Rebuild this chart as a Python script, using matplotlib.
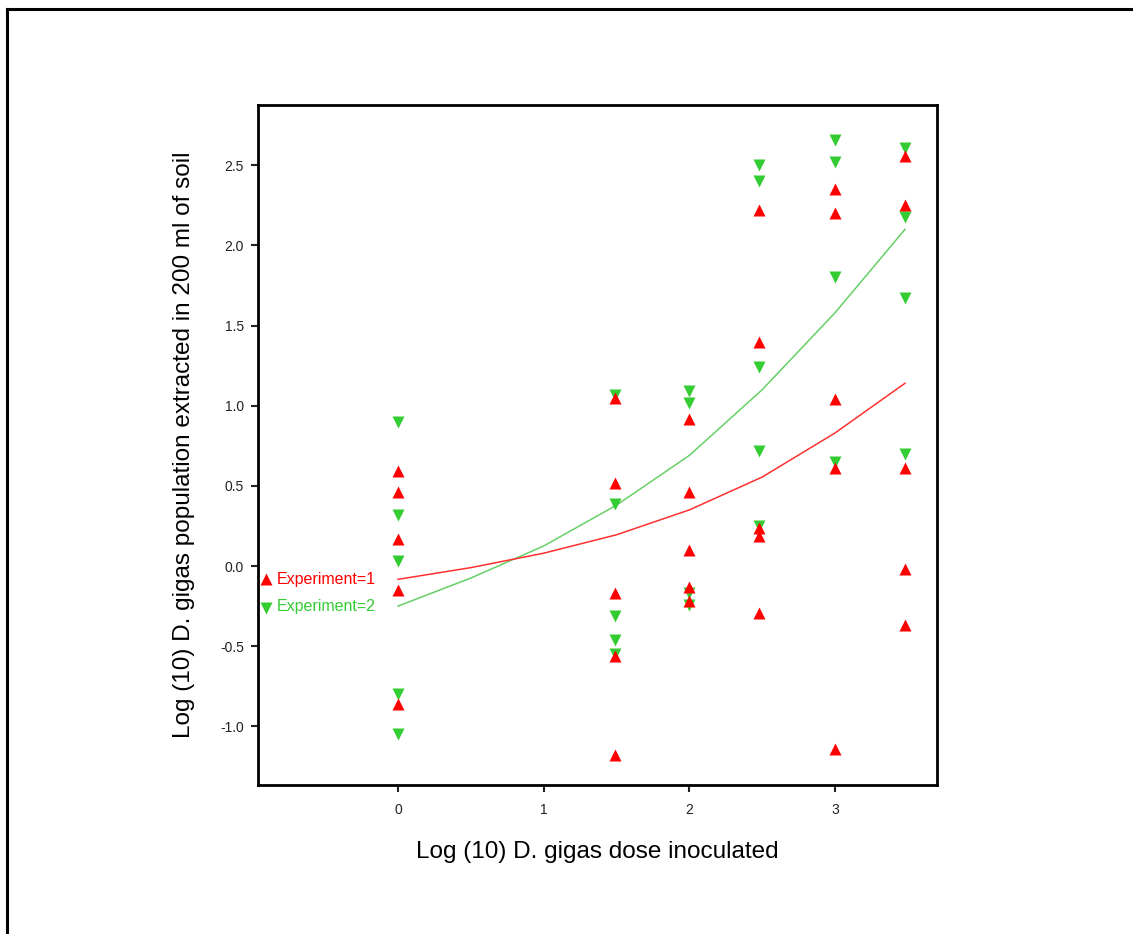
import numpy as np
import matplotlib
matplotlib.use("Agg")
from matplotlib import pyplot as plt
from matplotlib.lines import Line2D

plt.rcParams["font.family"] = ["Liberation Sans", "DejaVu Sans"]

# log10 dose positions on the x axis
doses = [0, 1.49, 2, 2.48, 3, 3.48]

# Experiment 1 (red, up triangles), values per dose
exp1 = [
    [0.59, 0.46, 0.17, -0.15, -0.86],
    [1.05, 0.52, -0.17, -0.56, -1.18],
    [0.92, 0.46, 0.10, -0.13, -0.22],
    [2.22, 1.40, 0.24, 0.19, -0.29],
    [2.35, 2.20, 1.04, 0.61, -1.14],
    [2.56, 2.25, 0.61, -0.02, -0.37],
]

# Experiment 2 (green, down triangles), values per dose
exp2 = [
    [0.90, 0.32, 0.03, -0.80, -1.05],
    [1.07, 0.39, -0.31, -0.46, -0.55],
    [1.09, 1.02, -0.17, -0.24],
    [2.50, 2.40, 1.24, 0.72, 0.25],
    [2.66, 2.52, 1.80, 0.65],
    [2.61, 2.18, 1.67, 0.70],
]

# fit lines
fit_x = [0, 0.5, 1, 1.5, 2, 2.5, 3, 3.48]
fit1 = [-0.083, -0.01, 0.08, 0.195, 0.35, 0.555, 0.83, 1.14]
fit2 = [-0.25, -0.075, 0.125, 0.38, 0.69, 1.10, 1.58, 2.10]

yticks = [-1.0, -0.5, 0.0, 0.5, 1.0, 1.5, 2.0, 2.5]
xticks = [0, 1, 2, 3]

red = "#ff0000"
green = "#33cc33"


def flatten(groups):
    xs, ys = [], []
    for d, vals in zip(doses, groups):
        for v in vals:
            xs.append(d)
            ys.append(v)
    return xs, ys


fig = plt.figure(figsize=(11.33, 9.34), dpi=100)
ax = fig.add_axes([258 / 1133, 1 - 785 / 934, 679 / 1133, 680 / 934])

x1, y1 = flatten(exp1)
x2, y2 = flatten(exp2)

ax.plot(fit_x, fit2, color="#66d066", lw=1.1, zorder=2)
ax.plot(fit_x, fit1, color="#ff3030", lw=1.1, zorder=2)
ax.plot(x2, y2, "v", color=green, ms=8, mec="none", zorder=3)
ax.plot(x1, y1, "^", color=red, ms=8, mec="none", zorder=4)

# line labels at left
ax.plot([-0.906], [-0.083], "^", color=red, ms=8, mec="none", clip_on=False)
ax.text(-0.83, -0.083, "Experiment=1", color=red, fontsize=11.5, va="center", ha="left")
ax.plot([-0.906], [-0.26], "v", color=green, ms=8, mec="none", clip_on=False)
ax.text(-0.83, -0.25, "Experiment=2", color=green, fontsize=11.5, va="center", ha="left")

ax.set_xlim(-0.961, 3.700)
ax.set_ylim(-1.366, 2.876)
ax.set_xticks(xticks)
ax.set_xticklabels([str(t) for t in xticks])
ax.set_yticks(yticks)
ax.set_yticklabels(["%.1f" % t for t in yticks])
ax.tick_params(direction="out", length=5, width=1.5, labelsize=10, pad=8, colors="#222222")
ax.tick_params(axis="y", pad=5)

for s in ax.spines.values():
    s.set_linewidth(2)

ax.set_xlabel("Log (10) D. gigas dose inoculated", fontsize=17.5, labelpad=17)
ax.set_ylabel("Log (10) D. gigas population extracted in 200 ml of soil", fontsize=17.5, labelpad=18)

# partial frame round the figure
fx = 7 / 1133
fy = 1 - 9 / 934
fig.add_artist(Line2D([fx, fx], [0, fy], transform=fig.transFigure, color="black", lw=2.2))
fig.add_artist(Line2D([fx, 1], [fy, fy], transform=fig.transFigure, color="black", lw=2.2))

fig.savefig("out.png", dpi=100)
